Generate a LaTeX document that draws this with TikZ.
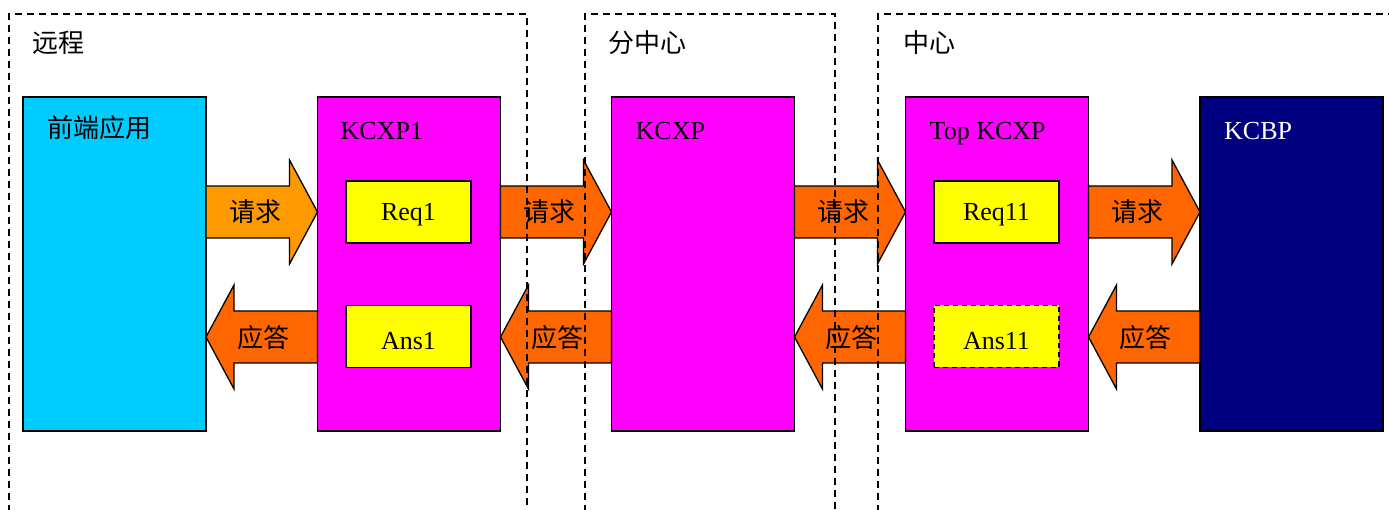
\documentclass[tikz,border=0pt]{standalone}
\usepackage{fontspec}
\setmainfont{Liberation Serif}
\newfontfamily\cjk{Noto Sans CJK SC}
\usetikzlibrary{calc}
\definecolor{cyanbox}{HTML}{00CCFF}
\definecolor{magbox}{HTML}{FF00FF}
\definecolor{yelbox}{HTML}{FFFF00}
\definecolor{navybox}{HTML}{000080}
\definecolor{orangeA}{HTML}{FF9900}
\definecolor{orangeB}{HTML}{FF6600}
\newcommand\rarr[4]{\draw[blk,fill=#1] let \p1=(#2.east),\p2=(#3.west) in
  (\x1,-#4pt+26pt) -- (\x2-28pt,-#4pt+26pt) -- (\x2-28pt,-#4pt+52pt) -- (\x2,-#4pt)
  -- (\x2-28pt,-#4pt-52pt) -- (\x2-28pt,-#4pt-26pt) -- (\x1,-#4pt-26pt) -- cycle;}
\newcommand\larr[4]{\draw[blk,fill=#1] let \p1=(#2.east),\p2=(#3.west) in
  (\x2,-#4pt+26pt) -- (\x1+28pt,-#4pt+26pt) -- (\x1+28pt,-#4pt+52pt) -- (\x1,-#4pt)
  -- (\x1+28pt,-#4pt-52pt) -- (\x1+28pt,-#4pt-26pt) -- (\x2,-#4pt-26pt) -- cycle;}
\begin{document}
\begin{tikzpicture}[x=1pt,y=-1pt,
  box/.style={draw=black,line width=1.5pt,inner sep=0pt,outer sep=0pt,minimum width=183pt,minimum height=334pt},
  innerbox/.style={draw=black,line width=1.5pt,fill=yelbox,minimum width=125pt,minimum height=62pt,inner sep=0pt,outer sep=0pt,font=\fontsize{26}{30}\selectfont},
  reqtext/.style={text height=18pt,text depth=0pt},
  anstext/.style={text height=25pt,text depth=0pt},
  title/.style={anchor=base west,inner sep=0pt,font=\fontsize{26}{30}\selectfont},
  cjktitle/.style={anchor=base west,inner sep=0pt,font=\cjk\fontsize{26}{30}\selectfont},
  region/.style={draw=black,dash pattern=on 7pt off 5pt,line width=1.3pt},
  blk/.style={draw=black,line width=1.3pt,line join=miter},
  lbl/.style={inner sep=0pt,font=\cjk\fontsize{26}{30}\selectfont}]
\useasboundingbox[fill=white] (0,0) rectangle (1389,510);
% main boxes
\node[box,fill=cyanbox] (fe) at (114.5,264) {};
\node[box,fill=magbox] (k1) at (409,264) {};
\node[box,fill=magbox] (k) at (703,264) {};
\node[box,fill=magbox] (tk) at (997,264) {};
\node[box,fill=navybox] (kb) at (1291.5,264) {};
% titles
\node[cjktitle] (tfe) at ($(fe.north west)+(24,41)$) {前端应用};
\node[title] (tk1) at ($(k1.north west)+(23,43)$) {KCXP1};
\node[title] (tk0) at ($(k.north west)+(24,43)$) {KCXP};
\node[title] (ttk) at ($(tk.north west)+(24,43)$) {Top KCXP};
\node[title,text=white] (tkb) at ($(kb.north west)+(24,43)$) {KCBP};
% inner boxes
\node[innerbox,reqtext] (req1) at (408.5,212) {Req1};
\node[innerbox,anstext] (ans1) at (408.5,336.5) {Ans1};
\node[innerbox,reqtext] (req11) at (996.5,212) {Req11};
\node[innerbox,anstext,dash pattern=on 5pt off 4pt] (ans11) at (996.5,336.5) {Ans11};
% block arrows
\rarr{orangeA}{fe}{k1}{212}
\rarr{orangeB}{k1}{k}{212}
\rarr{orangeB}{k}{tk}{212}
\rarr{orangeB}{tk}{kb}{212}
\larr{orangeB}{fe}{k1}{337}
\larr{orangeB}{k1}{k}{337}
\larr{orangeB}{k}{tk}{337}
\larr{orangeB}{tk}{kb}{337}
% arrow labels
\node[lbl] (q1) at (255,212) {请求};
\node[lbl] (q2) at (549,212) {请求};
\node[lbl] (q3) at (843,212) {请求};
\node[lbl] (q4) at (1137,212) {请求};
\node[lbl] (a1) at (263,338) {应答};
\node[lbl] (a2) at (557,338) {应答};
\node[lbl] (a3) at (851,338) {应答};
\node[lbl] (a4) at (1145,338) {应答};
% dashed regions
\draw[region] (9,512) -- (9,14) -- (527,14) -- (527,512);
\draw[region] (585,512) -- (585,14) -- (835,14) -- (835,512);
\draw[region] (878,512) -- (878,14) -- (1392,14);
\node[cjktitle] (r1) at (32,53) {远程};
\node[cjktitle] (r2) at (608,53) {分中心};
\node[cjktitle] (r3) at (903,53) {中心};
\end{tikzpicture}
\end{document}
